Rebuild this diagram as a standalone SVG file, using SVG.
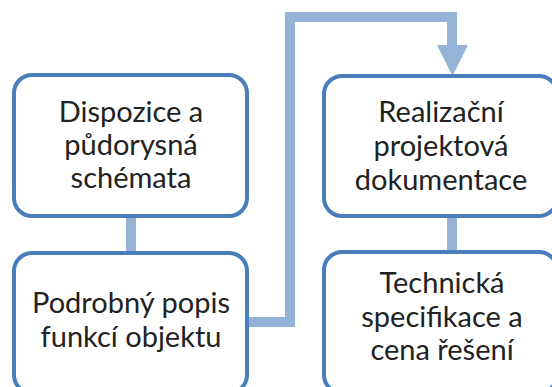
<svg xmlns="http://www.w3.org/2000/svg" width="552" height="387" viewBox="0 0 552 387">
<style>
.box{fill:#fff;stroke:#4a7ebb;stroke-width:4}
.lbl{font-family:Lato,"Open Sans","Liberation Sans",sans-serif;font-size:29px;fill:#222;text-anchor:middle}
.con{fill:none;stroke:#95b3d7;stroke-width:10}
</style>
<rect width="552" height="387" fill="#fff"/>
<g id="connectors">
<line class="con" x1="131" y1="216" x2="131" y2="253"/>
<line class="con" x1="452" y1="216" x2="452" y2="252"/>
<polyline class="con" points="247,322 290,322 290,17 452,17 452,46" stroke-linejoin="miter"/>
<polygon points="437,45 468,45 452.5,76" fill="#95b3d7"/>
</g>
<g id="n1">
<rect class="box" x="14" y="75" width="233" height="141" rx="18"/>
<text class="lbl" x="131" y="122">Dispozice a</text>
<text class="lbl" x="131" y="155">půdorysná</text>
<text class="lbl" x="131" y="188">schémata</text>
</g>
<g id="n2">
<rect class="box" x="14" y="253" width="233" height="140" rx="18"/>
<text class="lbl" x="131" y="313">Podrobný popis</text>
<text class="lbl" x="131" y="347">funkcí objektu</text>
</g>
<g id="n3">
<rect class="box" x="324" y="76" width="233" height="140" rx="18"/>
<text class="lbl" x="441" y="122">Realizační</text>
<text class="lbl" x="441" y="156">projektová</text>
<text class="lbl" x="441" y="190">dokumentace</text>
</g>
<g id="n4">
<rect class="box" x="324" y="252" width="233" height="141" rx="18"/>
<text class="lbl" x="442" y="293">Technická</text>
<text class="lbl" x="442" y="327">specifikace a</text>
<text class="lbl" x="442" y="360">cena řešení</text>
</g>
</svg>
